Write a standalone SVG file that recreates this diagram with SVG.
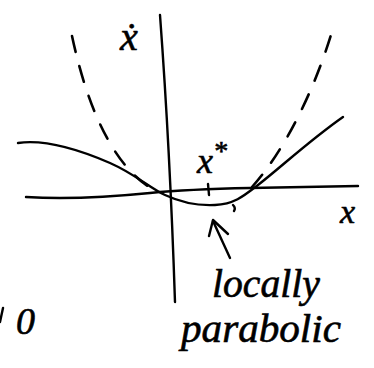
<svg xmlns="http://www.w3.org/2000/svg" width="374" height="368" viewBox="0 0 374 368">
<style>
.ln{fill:none;stroke:#000;stroke-width:2.4;stroke-linecap:round;stroke-linejoin:round}
.dash{fill:none;stroke:#000;stroke-width:2.6;stroke-linecap:round;stroke-dasharray:16 15}
.t{font-family:"Liberation Serif",serif;font-style:italic;fill:#000;stroke:#000;stroke-width:0.6}
</style>
<rect width="374" height="368" fill="#fff"/>
<g id="axes">
<path class="ln" d="M160,15 Q170,150 175,302"/>
<path class="ln" d="M26,197 C60,199 110,197 150,193 C170,191 200,189 250,188 L358,186"/>
<path class="ln" d="M208,184 L209,195"/>
</g>
<g id="curves">
<path class="ln" d="M18,143 C45,139 80,150 110,163 C135,174 150,188 165,195 C180,202 195,206 215,205 C235,204 245,195 258,185 C280,168 310,140 343,117"/>
<path class="dash" d="M72,36 C90,120 120,175 160,193"/>
<path class="dash" d="M252,187 C285,150 315,90 334,25"/>
<path class="ln" d="M233,205 q3,3 1,6" stroke-width="1.5"/>
</g>
<g id="connectors">
<path class="ln" d="M230,258 L213,221"/>
<path class="ln" d="M209,236 L213,220 L228,234"/>
</g>
<g id="labels">
<text class="t" x="120" y="50" font-size="40">ẋ</text>
<text class="t" x="197" y="173" font-size="36">x<tspan dy="-13" font-size="28">*</tspan></text>
<text class="t" x="340" y="223" font-size="34">x</text>
<text class="t" x="212" y="297" font-size="40" textLength="108" lengthAdjust="spacingAndGlyphs">locally</text>
<text class="t" x="181" y="342" font-size="40" textLength="160" lengthAdjust="spacingAndGlyphs">parabolic</text>
<text class="t" x="16" y="334" font-size="38">0</text>
<path class="ln" d="M3,308 L0,322"/>
</g>
</svg>
